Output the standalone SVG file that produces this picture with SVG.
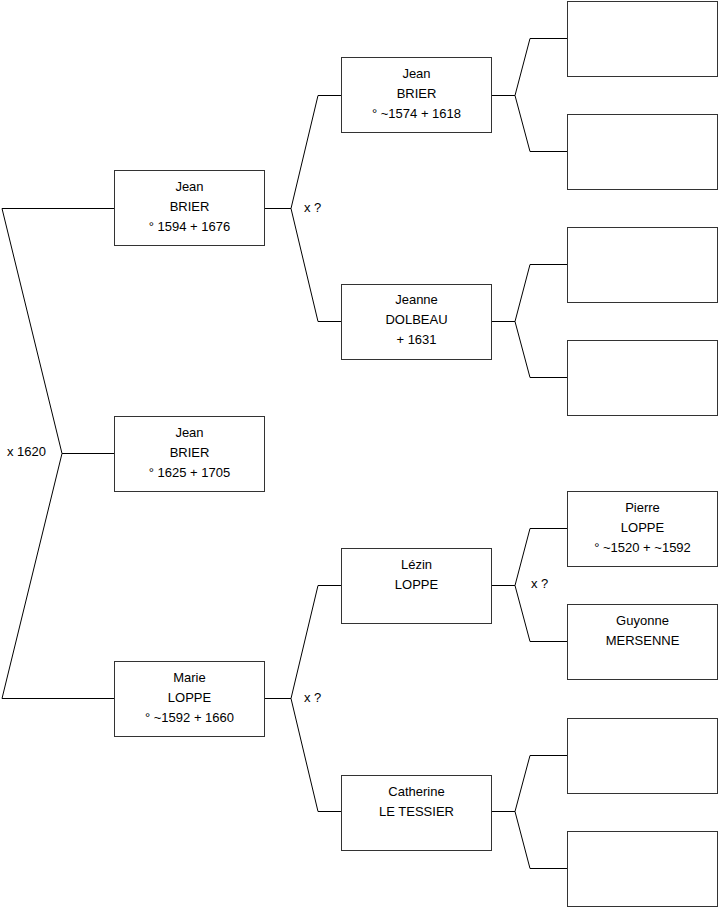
<svg xmlns="http://www.w3.org/2000/svg" width="719" height="908" viewBox="0 0 719 908">
<style>
rect.b{fill:#fff;stroke:#333;stroke-width:1}
.c{fill:none;stroke:#000;stroke-width:1}
text{font-family:"Liberation Sans",Arial,sans-serif;font-size:13px;fill:#000}
.m{text-anchor:middle}
</style>
<rect width="719" height="908" fill="#fff"/>
<g id="connectors">
<polyline class="c" points="114,208.5 2,208.5 62,453.5 2,698.5 114,698.5"/>
<line class="c" x1="62" y1="453.5" x2="114" y2="453.5"/>
<polyline class="c" points="265,208.5 291,208.5"/>
<polyline class="c" points="341,95.5 318,95.5 291,208.5 318,321.5 341,321.5"/>
<polyline class="c" points="265,698.5 291,698.5"/>
<polyline class="c" points="341,585.5 318,585.5 291,698.5 318,811.5 341,811.5"/>
<line class="c" x1="491" y1="95.5" x2="515" y2="95.5"/>
<polyline class="c" points="567,38.5 530,38.5 515,95.5 530,151.5 567,151.5"/>
<line class="c" x1="491" y1="321.5" x2="515" y2="321.5"/>
<polyline class="c" points="567,264.5 530,264.5 515,321.5 530,377.5 567,377.5"/>
<line class="c" x1="491" y1="585.5" x2="515" y2="585.5"/>
<polyline class="c" points="567,528.5 530,528.5 515,585.5 530,641.5 567,641.5"/>
<line class="c" x1="491" y1="811.5" x2="515" y2="811.5"/>
<polyline class="c" points="567,755.5 530,755.5 515,811.5 530,868.5 567,868.5"/>
<text x="7" y="456">x 1620</text>
<text x="304" y="212">x ?</text>
<text x="304" y="702">x ?</text>
<text x="531" y="588">x ?</text>
</g>
<g id="p1"><rect class="b" x="114.5" y="170.5" width="150" height="75"/>
<text class="m" x="189.5" y="191">Jean</text><text class="m" x="189.5" y="211">BRIER</text><text class="m" x="189.5" y="231">° 1594 + 1676</text></g>
<g id="p0"><rect class="b" x="114.5" y="416.5" width="150" height="75"/>
<text class="m" x="189.5" y="437">Jean</text><text class="m" x="189.5" y="457">BRIER</text><text class="m" x="189.5" y="477">° 1625 + 1705</text></g>
<g id="p2"><rect class="b" x="114.5" y="661.5" width="150" height="75"/>
<text class="m" x="189.5" y="682">Marie</text><text class="m" x="189.5" y="702">LOPPE</text><text class="m" x="189.5" y="722">° ~1592 + 1660</text></g>
<g id="p3"><rect class="b" x="341.5" y="57.5" width="150" height="75"/>
<text class="m" x="416.5" y="78">Jean</text><text class="m" x="416.5" y="98">BRIER</text><text class="m" x="416.5" y="118">° ~1574 + 1618</text></g>
<g id="p4"><rect class="b" x="341.5" y="284.5" width="150" height="75"/>
<text class="m" x="416.5" y="304">Jeanne</text><text class="m" x="416.5" y="324">DOLBEAU</text><text class="m" x="416.5" y="344">+ 1631</text></g>
<g id="p5"><rect class="b" x="341.5" y="548.5" width="150" height="75"/>
<text class="m" x="416.5" y="569">Lézin</text><text class="m" x="416.5" y="589">LOPPE</text></g>
<g id="p6"><rect class="b" x="341.5" y="775.5" width="150" height="75"/>
<text class="m" x="416.5" y="796">Catherine</text><text class="m" x="416.5" y="816">LE TESSIER</text></g>
<g id="p7"><rect class="b" x="567.5" y="1.5" width="150" height="75"/></g>
<g id="p8"><rect class="b" x="567.5" y="114.5" width="150" height="75"/></g>
<g id="p9"><rect class="b" x="567.5" y="227.5" width="150" height="75"/></g>
<g id="p10"><rect class="b" x="567.5" y="340.5" width="150" height="75"/></g>
<g id="p11"><rect class="b" x="567.5" y="491.5" width="150" height="75"/>
<text class="m" x="642.5" y="512">Pierre</text><text class="m" x="642.5" y="532">LOPPE</text><text class="m" x="642.5" y="552">° ~1520 + ~1592</text></g>
<g id="p12"><rect class="b" x="567.5" y="604.5" width="150" height="75"/>
<text class="m" x="642.5" y="625">Guyonne</text><text class="m" x="642.5" y="645">MERSENNE</text></g>
<g id="p13"><rect class="b" x="567.5" y="718.5" width="150" height="75"/></g>
<g id="p14"><rect class="b" x="567.5" y="831.5" width="150" height="75"/></g>
</svg>
